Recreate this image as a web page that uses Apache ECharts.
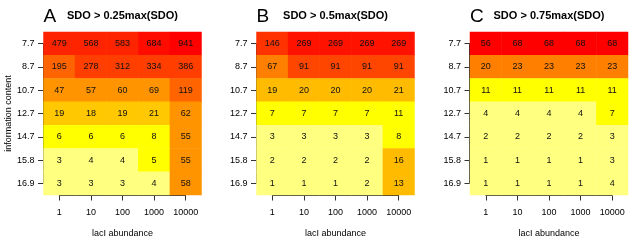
<!DOCTYPE html>
<html>
<head>
<meta charset="utf-8">
<script src="https://cdn.jsdelivr.net/npm/echarts@6/dist/echarts.min.js"></script>
<style>html,body{margin:0;padding:0;background:#fff}#c{width:640px;height:240px}</style>
</head>
<body>
<div id="c"></div>
<script>
// ---- data ----
var abundance = ['1', '10', '100', '1000', '10000'];
var infoContent = ['7.7', '8.7', '10.7', '12.7', '14.7', '15.8', '16.9'];
var panelLetters = ['A', 'B', 'C'];
var panelTitles = ['SDO > 0.25max(SDO)', 'SDO > 0.5max(SDO)', 'SDO > 0.75max(SDO)'];
var sdo025 = [
  [479, 568, 583, 684, 941],
  [195, 278, 312, 334, 386],
  [47, 57, 60, 69, 119],
  [19, 18, 19, 21, 62],
  [6, 6, 6, 8, 55],
  [3, 4, 4, 5, 55],
  [3, 3, 3, 4, 58]
];
var sdo05 = [
  [146, 269, 269, 269, 269],
  [67, 91, 91, 91, 91],
  [19, 20, 20, 20, 21],
  [7, 7, 7, 7, 11],
  [3, 3, 3, 3, 8],
  [2, 2, 2, 2, 16],
  [1, 1, 1, 2, 13]
];
var sdo075 = [
  [56, 68, 68, 68, 68],
  [20, 23, 23, 23, 23],
  [11, 11, 11, 11, 11],
  [4, 4, 4, 4, 7],
  [2, 2, 2, 2, 3],
  [1, 1, 1, 1, 3],
  [1, 1, 1, 1, 4]
];
var panels = [sdo025, sdo05, sdo075];

// ---- styling ----
var FONT = '"Liberation Sans", Arial, Helvetica, sans-serif';
var pieceSets = [
  [
    {gte: 900, color: '#FF0000'},
    {gte: 600, lt: 900, color: '#FF0C00'},
    {gte: 450, lt: 600, color: '#FF2400'},
    {gte: 250, lt: 450, color: '#FF3E00'},
    {gte: 100, lt: 250, color: '#FF6400'},
    {gte: 40, lt: 100, color: '#FF9400'},
    {gte: 15, lt: 40, color: '#FFC800'},
    {gte: 5, lt: 15, color: '#FFFF00'},
    {lt: 5, color: '#FFFF80'}
  ],
  [
    {gte: 200, color: '#FF1200'},
    {gte: 120, lt: 200, color: '#FF3300'},
    {gte: 80, lt: 120, color: '#FF4600'},
    {gte: 30, lt: 80, color: '#FF8000'},
    {gte: 12, lt: 30, color: '#FFBB00'},
    {gte: 7, lt: 12, color: '#FFFF00'},
    {lt: 7, color: '#FFFF80'}
  ],
  [
    {gte: 50, color: '#FF0000'},
    {gte: 15, lt: 50, color: '#FF8000'},
    {gte: 5, lt: 15, color: '#FFFF00'},
    {lt: 5, color: '#FFFF80'}
  ]
];
var lefts = [43.5, 256.5, 470];
var W = 158, TOP = 32, H = 163;
var cw = W / abundance.length, ch = H / infoContent.length;

var grids = [], xAxes = [], yAxes = [], series = [], axisSeries = [], visualMaps = [], graphics = [];
panels.forEach(function (vals, p) {
  grids.push({left: lefts[p], top: TOP, width: W, height: H, containLabel: false, outerBoundsMode: 'none'});
  grids.push({left: lefts[p] + cw / 2, top: TOP + ch / 2, width: W - cw, height: H - ch,
    containLabel: false, outerBoundsMode: 'none'});
  var g = p * 2;
  xAxes.push({
    type: 'category', gridIndex: g, data: abundance,
    axisLine: {show: false}, axisTick: {show: false}, splitLine: {show: false},
    axisLabel: {fontSize: 9, color: '#000', margin: 13, interval: 0, fontFamily: FONT},
    name: 'lacI abundance', nameLocation: 'middle', nameGap: 34,
    nameTextStyle: {fontSize: 9, color: '#000', fontFamily: FONT}
  });
  yAxes.push({
    type: 'category', gridIndex: g, data: infoContent, inverse: true,
    axisLine: {show: false}, axisTick: {show: false}, splitLine: {show: false},
    axisLabel: {fontSize: 9, color: '#000', margin: 9, interval: 0, fontFamily: FONT},
    name: p === 0 ? 'information content' : '', nameLocation: 'middle', nameGap: 30,
    nameTextStyle: {fontSize: 9, color: '#000', fontFamily: FONT}
  });
  xAxes.push({
    type: 'value', gridIndex: g + 1, min: 0, max: abundance.length - 1, interval: 1,
    position: 'bottom', offset: ch / 2 + 0.5,
    axisLine: {show: true, onZero: false, lineStyle: {color: '#333', width: 1}},
    axisTick: {show: true, length: 5, lineStyle: {color: '#333'}},
    axisLabel: {show: false}, splitLine: {show: false}
  });
  yAxes.push({
    type: 'value', gridIndex: g + 1, min: 0, max: infoContent.length - 1, interval: 1,
    position: 'left', offset: cw / 2 + 0.5,
    axisLine: {show: true, onZero: false, lineStyle: {color: '#333', width: 1}},
    axisTick: {show: true, length: 5, lineStyle: {color: '#333'}},
    axisLabel: {show: false}, splitLine: {show: false}
  });
  var data = [];
  vals.forEach(function (row, i) {
    row.forEach(function (v, j) { data.push([j, i, v]); });
  });
  series.push({
    type: 'heatmap', xAxisIndex: g, yAxisIndex: g, data: data,
    label: {show: true, fontSize: 9, color: '#111', fontFamily: FONT},
    itemStyle: {borderWidth: 0},
    emphasis: {disabled: true}
  });
  axisSeries.push({
    type: 'scatter', xAxisIndex: g + 1, yAxisIndex: g + 1, data: [], silent: true
  });
  visualMaps.push({
    type: 'piecewise', show: false, seriesIndex: p, dimension: 2, pieces: pieceSets[p]
  });
  graphics.push({
    type: 'text', x: lefts[p], y: 17,
    style: {text: panelLetters[p], fontSize: 19, fontFamily: FONT, fill: '#000',
      textAlign: 'left', textVerticalAlign: 'middle'}
  });
  graphics.push({
    type: 'text', x: lefts[p] + W / 2, y: 15.5,
    style: {text: panelTitles[p], fontSize: 11, fontWeight: 'bold', fontFamily: FONT, fill: '#000',
      textAlign: 'center', textVerticalAlign: 'middle'}
  });
});

var chart = echarts.init(document.getElementById('c'), null, {renderer: 'canvas'});
chart.setOption({
  animation: false,
  backgroundColor: '#fff',
  grid: grids,
  xAxis: xAxes,
  yAxis: yAxes,
  visualMap: visualMaps,
  series: series.concat(axisSeries),
  graphic: graphics
});
</script>
</body>
</html>
